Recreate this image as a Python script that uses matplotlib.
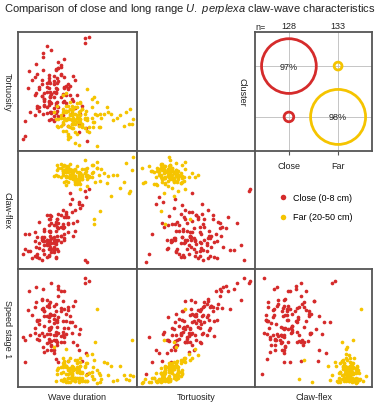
import matplotlib.pyplot as plt

plt.rcParams['font.family'] = ['Liberation Sans', 'DejaVu Sans']
plt.rcParams['mathtext.fontset'] = 'custom'
plt.rcParams['mathtext.rm'] = 'Liberation Sans'
plt.rcParams['mathtext.it'] = 'Liberation Sans:italic'

# values, scaled 0-100 per variable
close_wave = [27, 34, 22, 32, 18, 39, 28, 46, 14, 26, 36, 30, 21, 42, 33, 24,
              16, 38, 28, 51, 26, 32, 10, 34, 22, 44, 30, 20, 27, 39, 54, 15,
              33, 24, 40, 21, 30, 6, 36, 27, 48, 18, 32, 26, 38, 14, 28, 57,
              22, 34, 42, 16, 30, 26, 50, 9, 33, 24, 39, 28, 20, 45, 32, 4,
              36, 27, 18, 40, 30, 52, 22, 33, 12, 38, 26, 32, 21, 44, 28, 60,
              24, 30, 39, 20, 34, 27, 46, 15, 32, 22, 42, 26, 36, 8, 30, 56,
              28, 21, 38, 32, 26, 45, 18, 34, 24, 40, 30, 14, 33, 27, 51, 6,
              32, 22, 36, 27, 39, 20, 30, 48, 26, 34, 16, 42, 28, 24, 58, 56]
close_tort = [50, 59, 42, 68, 34, 54, 27, 63, 47, 39, 72, 45, 31, 56, 52, 37,
              65, 41, 48, 22, 61, 53, 33, 70, 44, 55, 29, 60, 46, 77, 38, 49,
              57, 32, 40, 82, 50, 25, 64, 45, 36, 54, 69, 41, 30, 62, 48, 19,
              44, 75, 53, 38, 59, 26, 47, 67, 34, 50, 42, 85, 56, 32, 40, 10,
              71, 45, 37, 55, 63, 31, 49, 41, 60, 23, 53, 39, 79, 47, 33, 96,
              54, 36, 62, 46, 29, 57, 42, 73, 50, 38, 21, 64, 45, 53, 26, 95,
              40, 68, 48, 32, 59, 44, 52, 37, 88, 47, 56, 30, 61, 41, 16, 13,
              49, 39, 65, 33, 53, 46, 25, 60, 42, 70, 36, 52, 32, 57, 8, 91]
close_claw = [46, 15, 32, 9, 40, 30, 45, 28, 31, 12, 36, 27, 26, 38, 42, 10,
              10, 50, 17, 57, 32, 23, 15, 35, 20, 55, 23, 26, 19, 44, 54, 11,
              36, 25, 44, 16, 14, 17, 46, 28, 32, 18, 40, 23, 38, 11, 26, 61,
              13, 35, 31, 27, 22, 37, 41, 30, 17, 46, 25, 39, 8, 59, 10, 13,
              28, 31, 22, 47, 19, 52, 24, 42, 9, 36, 11, 32, 16, 64, 14, 68,
              22, 37, 26, 25, 25, 42, 39, 19, 21, 27, 39, 42, 28, 15, 18, 66,
              22, 24, 35, 38, 20, 48, 9, 47, 20, 48, 16, 24, 28, 25, 55, 30,
              25, 34, 23, 32, 36, 27, 25, 50, 17, 39, 13, 44, 26, 25, 6, 8]
close_speed = [62, 59, 52, 57, 40, 66, 39, 69, 46, 50, 67, 61, 34, 68, 51, 45,
               56, 73, 31, 45, 48, 64, 44, 83, 43, 60, 31, 75, 45, 81, 22, 72,
               55, 31, 56, 83, 54, 40, 64, 49, 52, 53, 70, 38, 44, 68, 61, 29,
               30, 86, 50, 57, 44, 59, 36, 81, 36, 60, 42, 88, 46, 55, 24, 42,
               81, 50, 44, 45, 69, 49, 60, 38, 61, 47, 56, 47, 66, 55, 36, 90,
               37, 58, 50, 74, 21, 72, 38, 85, 40, 64, 22, 68, 38, 65, 40, 88,
               51, 67, 56, 39, 70, 46, 57, 46, 74, 62, 61, 50, 57, 49, 31, 21,
               44, 64, 43, 62, 38, 66, 29, 73, 41, 77, 41, 65, 35, 69, 11, 92]

far_wave = [44, 54, 38, 48, 62, 40, 51, 69, 34, 46, 58, 42, 52, 66, 45, 39,
            56, 36, 50, 63, 42, 46, 80, 52, 33, 45, 57, 40, 66, 48, 38, 91,
            51, 44, 60, 39, 50, 72, 45, 54, 32, 48, 40, 64, 52, 42, 86, 46,
            57, 38, 50, 45, 75, 40, 51, 62, 36, 48, 44, 56, 94, 46, 39, 68,
            50, 42, 58, 34, 52, 45, 78, 48, 40, 63, 44, 54, 38, 51, 70, 30,
            46, 56, 39, 50, 44, 83, 52, 42, 60, 36, 48, 45, 89, 51, 40, 64,
            45, 54, 38, 48, 58, 42, 76, 50, 33, 52, 44, 96, 46, 40, 56, 66,
            48, 39, 51, 45, 62, 42, 50, 65, 38, 54, 46, 44, 93, 52, 40, 69,
            46, 51, 42, 58, 97]
far_tort = [27, 21, 33, 16, 28, 38, 24, 31, 20, 35, 26, 13, 30, 41, 23, 34,
            19, 28, 37, 24, 10, 31, 26, 41, 21, 34, 27, 17, 30, 23, 47, 33,
            26, 35, 20, 28, 14, 31, 38, 23, 27, 7, 33, 24, 40, 21, 30, 27,
            34, 23, 30, 19, 37, 26, 28, 44, 21, 31, 12, 27, 35, 24, 33, 20,
            28, 38, 17, 27, 34, 23, 31, 26, 49, 20, 30, 35, 24, 5, 28, 33,
            23, 31, 27, 40, 20, 28, 24, 34, 16, 30, 37, 26, 21, 33, 27, 45,
            30, 20, 35, 26, 28, 14, 33, 24, 38, 27, 31, 23, 19, 34, 28, 4,
            26, 33, 21, 30, 37, 27, 24, 31, 17, 35, 28, 41, 23, 27, 34, 20,
            31, 24, 28, 52, 27]
far_claw = [80, 76, 84, 72, 88, 79, 82, 75, 86, 78, 70, 83, 77, 91, 81, 74,
            85, 78, 73, 82, 87, 76, 80, 68, 84, 79, 83, 71, 86, 77, 81, 90,
            75, 83, 79, 88, 72, 81, 77, 85, 80, 74, 82, 38, 78, 86, 69, 84,
            79, 87, 76, 82, 73, 85, 80, 78, 89, 75, 83, 81, 66, 77, 84, 80,
            82, 74, 86, 79, 81, 77, 62, 84, 78, 88, 80, 76, 83, 73, 85, 79,
            77, 81, 84, 75, 89, 80, 72, 83, 78, 86, 79, 82, 74, 81, 87, 42,
            83, 78, 80, 85, 76, 82, 79, 73, 88, 81, 77, 84, 80, 75, 92, 86,
            79, 82, 76, 84, 81, 78, 87, 74, 83, 80, 77, 85, 64, 81, 79, 49,
            82, 78, 84, 80, 95]
far_speed = [15, 5, 20, 5, 13, 11, 14, 10, 16, 14, 5, 8, 18, 66, 10, 22,
             5, 17, 13, 17, 4, 16, 5, 21, 11, 9, 20, 4, 14, 8, 25, 7,
             17, 13, 12, 7, 8, 21, 12, 12, 5, 7, 18, 7, 25, 8, 18, 6,
             10, 13, 20, 6, 20, 5, 13, 28, 6, 15, 4, 18, 10, 14, 7, 12,
             14, 22, 5, 16, 8, 11, 18, 7, 32, 7, 16, 8, 18, 4, 7, 34,
             8, 17, 7, 23, 12, 6, 12, 11, 12, 12, 23, 7, 10, 7, 18, 23,
             18, 6, 17, 5, 20, 8, 10, 13, 14, 18, 8, 40, 7, 18, 5, 3,
             8, 20, 8, 17, 9, 14, 17, 38, 5, 13, 17, 25, 6, 13, 17, 4,
             15, 5, 16, 27, 9]

col_names = ['Wave duration', 'Tortuosity', 'Claw-flex']
row_names = ['Tortuosity', 'Claw-flex', 'Speed stage 1']

# cluster membership (%), rows = cluster (top, bottom)
groups = ['Close', 'Far']
group_n = [128, 133]
close_pct = [97, 3]
far_pct = [2, 98]

red = '#d52b2b'
yellow = '#f5c400'
spine_col = '#555555'
txt = '#222222'

fig = plt.figure(figsize=(3.8, 4.06), dpi=100)
W, H = 380, 406
col_left = [18, 137, 255]
col_w = [119, 118, 117]
row_top = [33, 152, 270]
row_h = [119, 118, 118]


def cell(r, c):
    return fig.add_axes([col_left[c] / W, 1 - (row_top[r] + row_h[r]) / H,
                         col_w[c] / W, row_h[r] / H])


def frame(ax, lw=1.3):
    for s in ax.spines.values():
        s.set_color(spine_col)
        s.set_linewidth(lw)


x_close = [close_wave, close_tort, close_claw]
x_far = [far_wave, far_tort, far_claw]
y_close = [close_tort, close_claw, close_speed]
y_far = [far_tort, far_claw, far_speed]

handles = None
for r in range(3):
    for c in range(r + 1):
        ax = cell(r, c)
        h1 = ax.scatter(x_close[c], y_close[r], s=7, color=red, lw=0)
        h2 = ax.scatter(x_far[c], y_far[r], s=7, color=yellow, lw=0)
        if handles is None:
            handles = [h1, h2]
        ax.set_xlim(0, 100)
        ax.set_ylim(0, 100)
        ax.set_xticks([])
        ax.set_yticks([])
        frame(ax)

for c in range(3):
    fig.text((col_left[c] + col_w[c] / 2) / W, 1 - 398 / H, col_names[c],
             ha='center', va='center', fontsize=6.5, color=txt)
for r in range(3):
    fig.text(7 / W, 1 - (row_top[r] + row_h[r] / 2) / H, row_names[r],
             rotation=270, ha='center', va='center', fontsize=6.5, color=txt)

fig.text(0.5, 1 - 9 / H,
         'Comparison of close and long range $\\it{U.\\ perplexa}$ claw-wave characteristics',
         ha='center', va='center', fontsize=8.0, color=txt)

# cluster bubble panel
ax = cell(0, 2)
xs = [1, 2, 1, 2]
ys = [2, 2, 1, 1]
pct = [close_pct[0], far_pct[0], close_pct[1], far_pct[1]]
ax.scatter(xs, ys, s=[p * 16 for p in pct], facecolors='none',
           edgecolors=[red, yellow, red, yellow], linewidths=2, zorder=3)
for x, y, p in zip(xs, ys, pct):
    if p > 50:
        ax.text(x, y, f'{p}%', ha='center', va='center', fontsize=6.5,
                color=txt, zorder=4)
ax.set_xlim(0.31, 2.69)
ax.set_ylim(0.33, 2.67)
ax.set_xticks([1, 2])
ax.set_xticklabels(groups, fontsize=6.5, color=txt)
ax.set_yticks([1, 2])
ax.set_yticklabels([])
ax.tick_params(axis='x', length=3, color=spine_col, pad=4)
ax.tick_params(axis='y', length=0)
ax.grid(color='#bbbbbb', lw=0.6)
ax.set_axisbelow(True)
ax.set_ylabel('Cluster', rotation=270, fontsize=6.5, color=txt, labelpad=9)
frame(ax)
ax.text(0.0, 1.05, 'n=', transform=ax.transAxes, ha='left', va='center',
        fontsize=6.5, color=txt)
for x, n in zip([1, 2], group_n):
    ax.text(x, 2.67 + 0.12, str(n), ha='center', va='center', fontsize=6.5,
            color=txt)

fig.legend(handles, ['Close (0-8 cm)', 'Far (20-50 cm)'], loc='upper left',
           bbox_to_anchor=(274 / W, 1 - 189 / H), frameon=False, fontsize=6.5,
           markerscale=1.5, handlelength=1.0, handletextpad=0.6,
           labelspacing=1.2, borderpad=0)

fig.savefig('out.png', dpi=100)
